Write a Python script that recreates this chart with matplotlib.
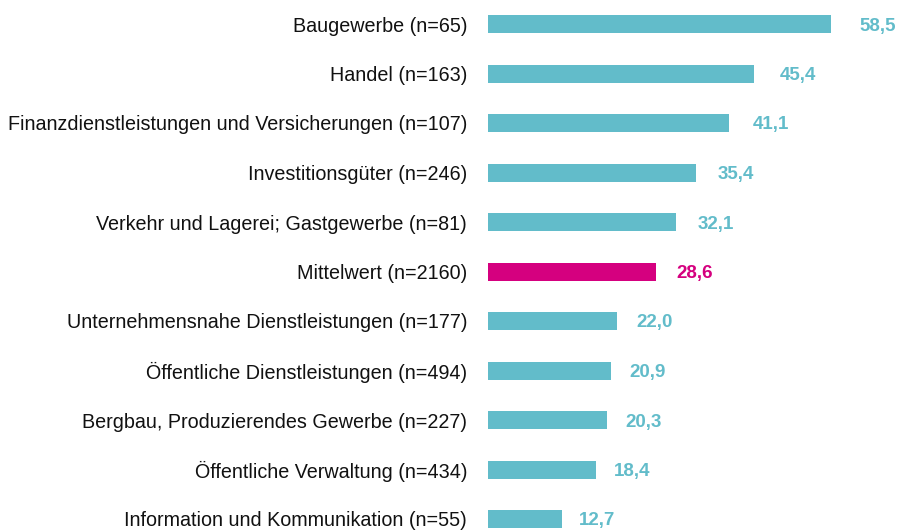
import matplotlib
matplotlib.use("Agg")
import matplotlib.pyplot as plt

categories = [
    "Baugewerbe (n=65)",
    "Handel (n=163)",
    "Finanzdienstleistungen und Versicherungen (n=107)",
    "Investitionsgüter (n=246)",
    "Verkehr und Lagerei; Gastgewerbe (n=81)",
    "Mittelwert (n=2160)",
    "Unternehmensnahe Dienstleistungen (n=177)",
    "Öffentliche Dienstleistungen (n=494)",
    "Bergbau, Produzierendes Gewerbe (n=227)",
    "Öffentliche Verwaltung (n=434)",
    "Information und Kommunikation (n=55)",
]
values = [58.5, 45.4, 41.1, 35.4, 32.1, 28.6, 22.0, 20.9, 20.3, 18.4, 12.7]
value_labels = ["58,5", "45,4", "41,1", "35,4", "32,1", "28,6", "22,0", "20,9", "20,3", "18,4", "12,7"]

teal = "#62BCCA"
magenta = "#D5007F"
colors = [magenta if c.startswith("Mittelwert") else teal for c in categories]

plt.rcParams["font.family"] = ["Liberation Sans", "DejaVu Sans"]

W, H = 900, 531
fig = plt.figure(figsize=(W / 100, H / 100), dpi=100)
x0 = 488
ax = fig.add_axes([x0 / W, 0, (W - x0) / W, 1])
pxu = 343 / 58.5
ax.set_xlim(0, (W - x0) / pxu)
spacing = 49.5
top = 24
ax.set_ylim((H - top) / spacing, -top / spacing)

ypos = list(range(len(categories)))
ax.barh(ypos, values, height=18 / spacing, color=colors)
for i, (v, lab, c) in enumerate(zip(values, value_labels, colors)):
    ax.annotate(lab, xy=(v * 1.046, i), xytext=(13 * 0.72, 0), textcoords="offset points",
                ha="left", va="center_baseline", fontsize=13.5, fontweight="bold", color=c)
for i, cat in enumerate(categories):
    ax.text(-21 / pxu, i, cat, ha="right", va="center_baseline", fontsize=14.2, color="#111111")

ax.axis("off")
fig.savefig("out.png", dpi=100)
